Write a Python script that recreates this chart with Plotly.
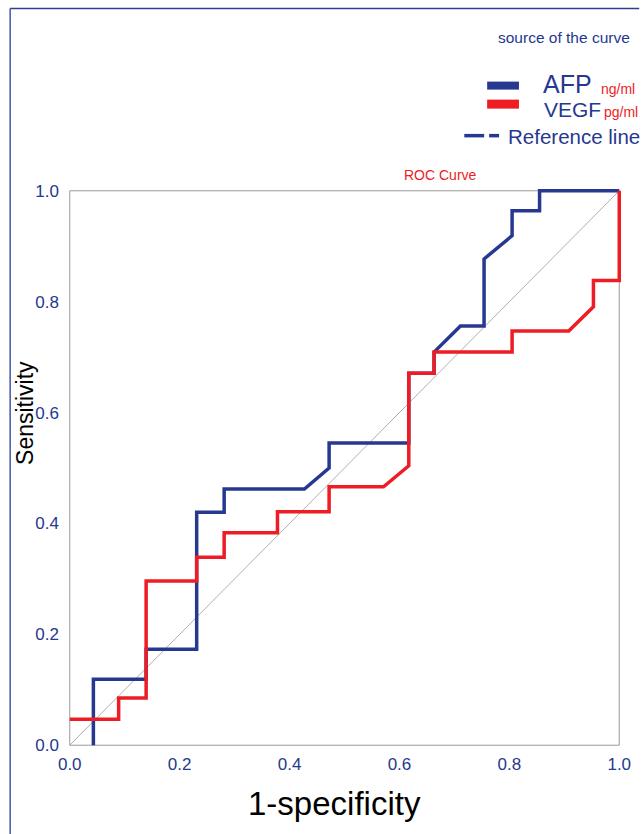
import plotly.graph_objects as go

# ---- data ----
afp_fpr = [0.043, 0.043, 0.139, 0.139, 0.231, 0.231, 0.281, 0.281, 0.427, 0.472, 0.472,
           0.617, 0.617, 0.663, 0.663, 0.711, 0.754, 0.754, 0.805, 0.805, 0.855, 0.855, 1.0]
afp_tpr = [0.0, 0.119, 0.119, 0.173, 0.173, 0.420, 0.420, 0.462, 0.462, 0.500, 0.545,
           0.545, 0.671, 0.671, 0.709, 0.756, 0.756, 0.877, 0.919, 0.964, 0.964, 1.0, 1.0]

vegf_fpr = [0.0, 0.089, 0.089, 0.139, 0.139, 0.231, 0.231, 0.281, 0.281, 0.378, 0.378,
            0.472, 0.472, 0.571, 0.617, 0.617, 0.663, 0.663, 0.805, 0.805, 0.908, 0.953,
            0.953, 1.0, 1.0]
vegf_tpr = [0.047, 0.047, 0.085, 0.085, 0.296, 0.296, 0.339, 0.339, 0.383, 0.383, 0.421,
            0.421, 0.466, 0.466, 0.504, 0.671, 0.671, 0.709, 0.709, 0.747, 0.747, 0.791,
            0.838, 0.838, 1.0]

ref_x = [0.0, 1.0]
ref_y = [0.0, 1.0]

tick_vals = [0.0, 0.2, 0.4, 0.6, 0.8, 1.0]
tick_text = ["0.0", "0.2", "0.4", "0.6", "0.8", "1.0"]

# ---- styling ----
BLUE = "#26388f"
RED = "#ee1c24"
FONT = "Liberation Sans, Arial, sans-serif"

W, H = 643, 834
L, PW = 67.2, 558.5
T, PH = 188.3, 559.5


def px(x):
    return (x - L) / PW


def py(y):
    return (T + PH - y) / PH


fig = go.Figure()
fig.add_trace(go.Scatter(x=ref_x, y=ref_y, mode="lines",
                         line=dict(color="#b0b0b0", width=1), hoverinfo="skip"))
fig.add_trace(go.Scatter(x=afp_fpr, y=afp_tpr, mode="lines", name="AFP",
                         line=dict(color=BLUE, width=3.5)))
fig.add_trace(go.Scatter(x=vegf_fpr, y=vegf_tpr, mode="lines", name="VEGF",
                         line=dict(color=RED, width=3.5)))

shapes = [
    # plot frame
    dict(type="rect", xref="x", yref="y", x0=0, y0=0, x1=1, y1=1,
         line=dict(color="#9a9a9a", width=1), layer="below"),
    # outer border (left and top)
    dict(type="line", xref="paper", yref="paper", x0=px(10), y0=py(9), x1=px(10), y1=py(834),
         line=dict(color="#4656a6", width=1.5)),
    dict(type="line", xref="paper", yref="paper", x0=px(10), y0=py(9), x1=px(643), y1=py(9),
         line=dict(color="#2e3f91", width=1.5)),
    # legend swatches
    dict(type="rect", xref="paper", yref="paper", x0=px(490), x1=px(522), y0=py(90), y1=py(82),
         line=dict(width=0), fillcolor=BLUE),
    dict(type="rect", xref="paper", yref="paper", x0=px(490), x1=px(522), y0=py(109), y1=py(100),
         line=dict(width=0), fillcolor=RED),
    dict(type="line", xref="paper", yref="paper", x0=px(467), x1=px(487), y0=py(136), y1=py(136),
         line=dict(color=BLUE, width=3.5)),
    dict(type="line", xref="paper", yref="paper", x0=px(492), x1=px(502), y0=py(136), y1=py(136),
         line=dict(color=BLUE, width=3.5)),
]


def ann(text, x, y, size, color, xanchor="left", yanchor="middle", angle=0):
    return dict(text=text, x=px(x), y=py(y), xref="paper", yref="paper",
                xanchor=xanchor, yanchor=yanchor, showarrow=False, textangle=angle,
                font=dict(size=size, color=color, family=FONT))


annotations = [
    ann("source of the curve", 499, 38, 15.5, BLUE),
    ann("AFP", 544, 84, 25, BLUE),
    ann("ng/ml", 603, 89, 14, RED),
    ann("VEGF", 545, 110, 21, BLUE),
    ann("pg/ml", 606, 112, 14, RED),
    ann("Reference line", 509, 137, 20.5, BLUE),
    ann("ROC Curve", 443, 175, 14, RED, xanchor="center"),
    ann("Sensitivity", 25, 413, 23, "black", xanchor="center", angle=-90),
    ann("1-specificity", 336, 803, 33, "black", xanchor="center"),
]

axis_common = dict(showgrid=False, zeroline=False, showline=False, ticks="",
                   tickvals=tick_vals, ticktext=tick_text, range=[-0.005, 1.005],
                   tickfont=dict(size=17, color=BLUE, family=FONT))

fig.update_layout(
    width=W, height=H,
    margin=dict(l=L, r=W - L - PW, t=T, b=H - T - PH),
    paper_bgcolor="white", plot_bgcolor="white",
    showlegend=False,
    xaxis=dict(**axis_common, ticklabelstandoff=4),
    yaxis=dict(**axis_common, ticklabelstandoff=7),
    shapes=shapes,
    annotations=annotations,
)

fig.write_html("out.html",
               config={"displayModeBar": False},
               post_script="document.body.style.margin='0px';"
                           "document.body.style.overflow='hidden';")
